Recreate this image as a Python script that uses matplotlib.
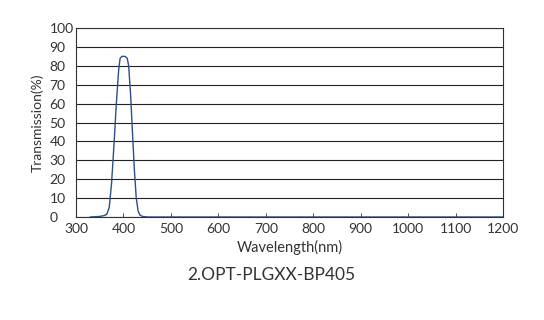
import matplotlib
matplotlib.use("Agg")
import matplotlib.pyplot as plt

# transmission curve
wavelength = [330, 350, 360, 365, 370, 375, 380, 385, 390, 393, 397, 403, 408,
              411, 415, 419, 423, 427, 431, 435, 440, 450, 600, 800, 1000, 1200]
transmission = [0, 0.3, 0.8, 1.5, 5, 18, 38, 60, 78, 84, 85, 85, 84,
                80, 65, 45, 25, 10, 3, 1, 0.3, 0, 0, 0, 0, 0]

xticks = [300, 400, 500, 600, 700, 800, 900, 1000, 1100, 1200]
yticks = list(range(0, 101, 10))
title = "2.OPT-PLGXX-BP405"

plt.rcParams['font.family'] = ['Lato', 'DejaVu Sans']

fig = plt.figure(figsize=(5.44, 3.2), dpi=100)
ax = fig.add_axes([76 / 544, 1 - 217 / 320, (503 - 76) / 544, (217 - 28) / 320])

ax.plot(wavelength, transmission, color='#2d4f86', lw=1.0)

ax.set_xlim(300, 1200)
ax.set_ylim(0, 100)
ax.set_xticks(xticks)
ax.set_yticks(yticks)
ax.yaxis.grid(True, color='#222222', lw=0.8)
ax.tick_params(axis='x', direction='in', length=3, width=0.6, labelsize=10, colors='#333333', pad=4)
ax.tick_params(axis='y', length=0, labelsize=10, colors='#333333', pad=19)
for lbl in ax.get_yticklabels():
    lbl.set_horizontalalignment('left')
for s in ax.spines.values():
    s.set_color('#333333')
    s.set_linewidth(0.8)

ax.set_xlabel('Wavelength(nm)', fontsize=10.5, color='#333333', labelpad=4)
ax.set_ylabel('Transmission(%)', fontsize=10, color='#333333', labelpad=4)

fig.text(271 / 544, 1 - 275 / 320, title, ha='center', va='center', fontsize=12.5, color='#333333')

fig.savefig('out.png', dpi=100)
